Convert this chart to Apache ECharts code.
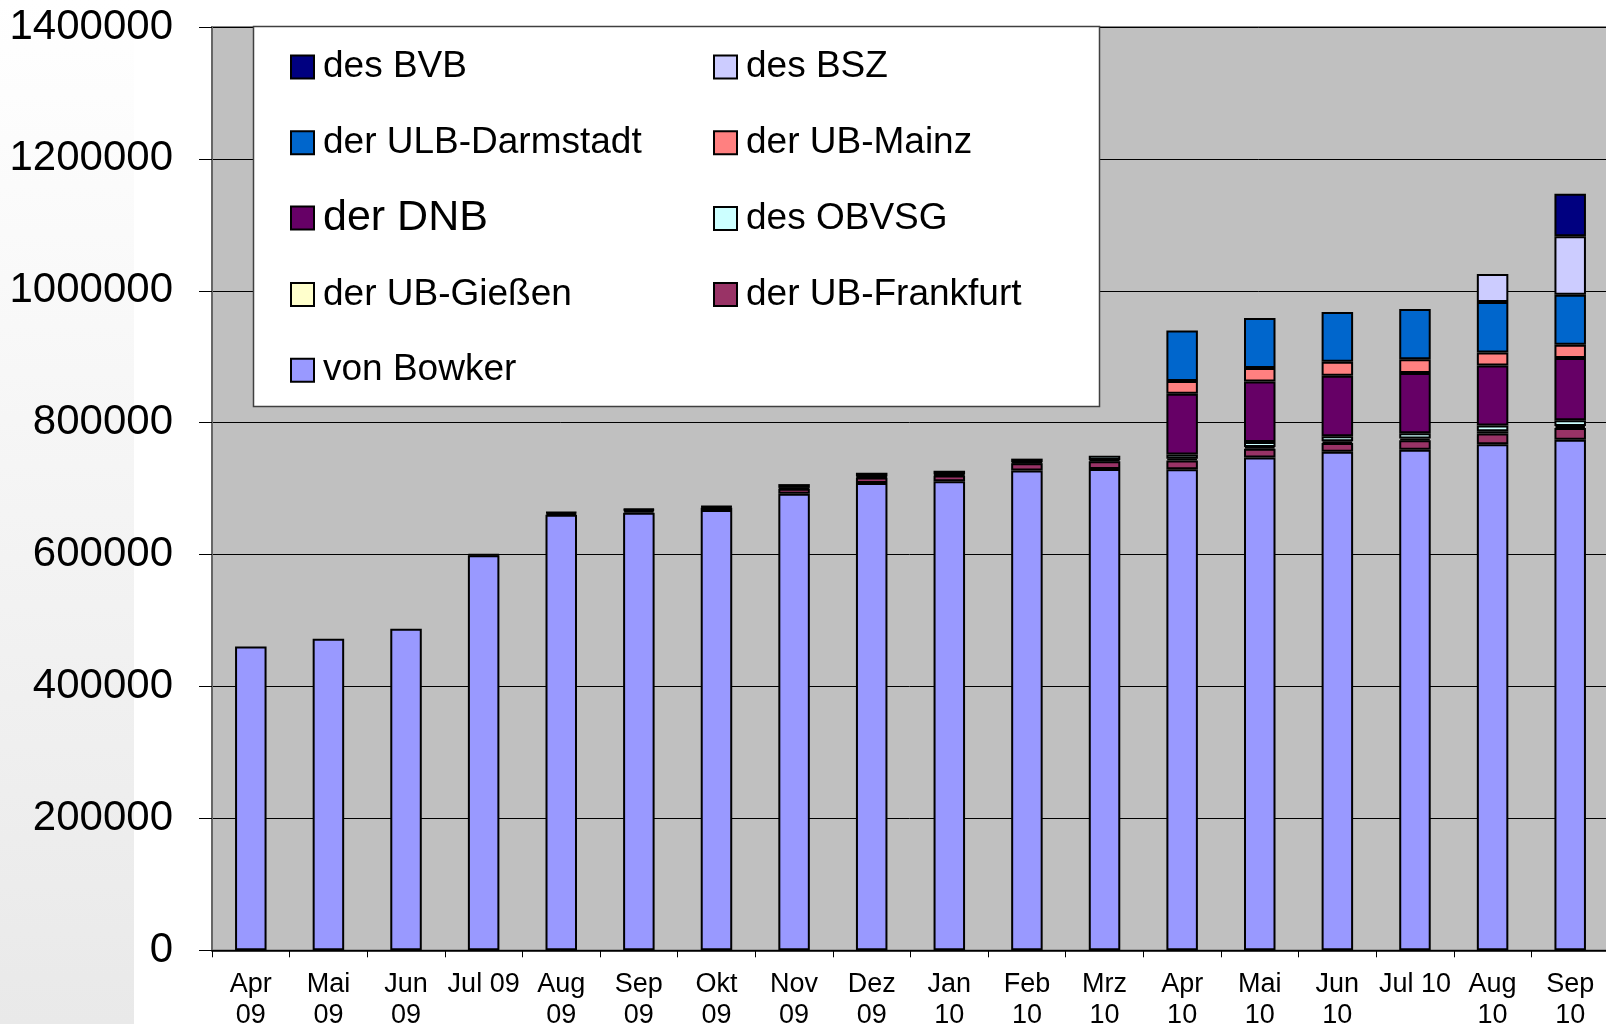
<!DOCTYPE html>
<html>
<head>
<meta charset="utf-8">
<title>Titeldaten</title>
<script src="https://cdn.jsdelivr.net/npm/echarts@6/dist/echarts.min.js"></script>
<style>
  html, body { margin: 0; padding: 0; background: #fff; }
  #chart { width: 1606px; height: 1024px; }
</style>
</head>
<body>
<div id="chart"></div>
<script>
const months = ['Apr 09', 'Mai 09', 'Jun 09', 'Jul 09', 'Aug 09', 'Sep 09', 'Okt 09', 'Nov 09', 'Dez 09',
  'Jan 10', 'Feb 10', 'Mrz 10', 'Apr 10', 'Mai 10', 'Jun 10', 'Jul 10', 'Aug 10', 'Sep 10'];

const yTicks = [0, 200000, 400000, 600000, 800000, 1000000, 1200000, 1400000];

// stacked from the bottom up
const bowker    = [460500, 472500, 487500, 599000, 660500, 663500, 667500, 692200, 708500, 711400, 727600, 729700, 729500, 747200, 755800, 759000, 767400, 774200];
const frankfurt = [null, null, null, 1500, 2500, 3000, 3500, 7600, 8500, 8600, 11100, 11800, 13300, 13300, 13300, 14300, 16400, 17700];
const giessen   = [null, null, null, null, 1500, 1500, 1500, 1500, 1500, 1500, 1500, 2000, 2500, 2700, 2700, 2800, 3100, 3000];
const obvsg     = [null, null, null, null, null, 1500, 1000, 5600, 5600, 5700, 5300, 6300, 6600, 7500, 7500, 7800, 9000, 8700];
const dnb       = [null, null, null, null, null, null, null, null, null, null, null, null, 92000, 91900, 91900, 91400, 91000, 94500];
const mainz     = [null, null, null, null, null, null, null, null, null, null, null, null, 19300, 20300, 21200, 20800, 19700, 20200];
const ulb       = [null, null, null, null, null, null, null, null, null, null, null, null, 76700, 75800, 75400, 76300, 76400, 75800];
const bsz       = [null, null, null, null, null, null, null, null, null, null, null, null, null, null, null, null, 42500, 88600];
const bvb       = [null, null, null, null, null, null, null, null, null, null, null, null, null, null, null, null, null, 64600];

const seriesDefs = [
  { name: 'von Bowker', data: bowker, color: '#9999ff' },
  { name: 'der UB-Frankfurt', data: frankfurt, color: '#993366' },
  { name: 'der UB-Gießen', data: giessen, color: '#ffffcc' },
  { name: 'des OBVSG', data: obvsg, color: '#ccffff' },
  { name: 'der DNB', data: dnb, color: '#660066' },
  { name: 'der UB-Mainz', data: mainz, color: '#ff8080' },
  { name: 'der ULB-Darmstadt', data: ulb, color: '#0066cc' },
  { name: 'des BSZ', data: bsz, color: '#ccccff' },
  { name: 'des BVB', data: bvb, color: '#000080' }
];

// legend layout: two columns, the DNB entry is set in a bigger font
const legendLeftTop = ['des BVB', 'der ULB-Darmstadt'];
const legendLeftBig = ['der DNB'];
const legendLeftBottom = ['der UB-Gießen', 'von Bowker'];
const legendRight = ['des BSZ', 'der UB-Mainz', 'des OBVSG', 'der UB-Frankfurt'];

const FONT = '"Liberation Sans", Arial, sans-serif';
const ROW = 75.8;
const LEGEND_TOP = 47;

function makeLegend(left, row, names, fontSize, shift) {
  return {
    orient: 'vertical',
    left: left,
    top: LEGEND_TOP + row * ROW + (shift || 0),
    padding: 0,
    itemGap: ROW - 40,
    itemWidth: 23,
    itemHeight: 23,
    icon: 'rect',
    selectedMode: false,
    data: names,
    textStyle: {
      fontFamily: FONT,
      fontSize: fontSize,
      lineHeight: 40,
      padding: [0, 0, 0, 4],
      color: '#000'
    }
  };
}

const chartDom = document.getElementById('chart');
const myChart = echarts.init(chartDom);

const option = {
  animation: false,
  backgroundColor: '#ffffff',
  graphic: [
    {
      type: 'rect',
      z: -1,
      silent: true,
      shape: { x: 0, y: 0, width: 134, height: 1024 },
      style: {
        fill: new echarts.graphic.LinearGradient(0, 0, 0, 1, [
          { offset: 0, color: '#ffffff' },
          { offset: 1, color: '#e9e9e9' }
        ])
      }
    },
    {
      type: 'rect',
      z: 3,
      silent: true,
      shape: { x: 253.5, y: 26.5, width: 846, height: 380 },
      style: { fill: '#ffffff', stroke: '#404040', lineWidth: 1.5 }
    }
  ],
  legend: [
    makeLegend(290, 0, legendLeftTop, 37),
    makeLegend(290, 2, legendLeftBig, 43, -2),
    makeLegend(290, 3, legendLeftBottom, 37),
    makeLegend(713, 0, legendRight, 37)
  ],
  grid: {
    left: 212,
    right: -3,
    top: 27,
    bottom: 73.7,
    outerBoundsMode: 'none',
    containLabel: false,
    show: true,
    backgroundColor: '#c0c0c0',
    borderColor: '#8a8a8a',
    borderWidth: 2
  },
  xAxis: {
    type: 'category',
    data: months,
    axisLine: { lineStyle: { color: '#000', width: 1.5 } },
    axisTick: { show: true, length: 7, interval: 0, lineStyle: { color: '#000' } },
    axisLabel: {
      interval: 0,
      margin: 19,
      fontFamily: FONT,
      fontSize: 27,
      lineHeight: 30.6,
      color: '#000',
      formatter: function (v) {
        return v.indexOf('Jul') === 0 ? v : v.replace(' ', '\n');
      }
    }
  },
  yAxis: {
    type: 'value',
    min: yTicks[0],
    max: yTicks[yTicks.length - 1],
    interval: yTicks[1] - yTicks[0],
    axisLine: { show: true, lineStyle: { color: '#666', width: 2 } },
    axisTick: { show: true, length: 13, lineStyle: { color: '#000' } },
    axisLabel: {
      margin: 39,
      fontFamily: FONT,
      fontSize: 42,
      color: '#000',
      formatter: function (v) { return String(v); }
    },
    splitLine: { lineStyle: { color: '#000', width: 1 } }
  },
  series: seriesDefs.map(function (s) {
    return {
      name: s.name,
      type: 'bar',
      stack: 'total',
      barWidth: 31.5,
      data: s.data,
      itemStyle: { color: s.color, borderColor: '#000', borderWidth: 2 },
      emphasis: { disabled: true }
    };
  })
};

myChart.setOption(option);
</script>
</body>
</html>
